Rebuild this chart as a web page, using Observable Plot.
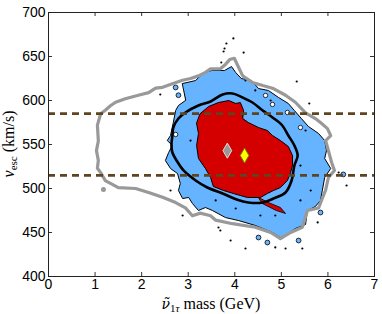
<!DOCTYPE html>
<html><head><meta charset="utf-8">
<script src="https://cdn.jsdelivr.net/npm/d3@7"></script>
<script src="https://cdn.jsdelivr.net/npm/@observablehq/plot@0.6"></script>
<style>body{margin:0;background:#fff}#chart{width:382px;height:314px}</style>
</head><body><div id="chart"></div>
<script>
const xTicks = [0,1,2,3,4,5,6,7];
const yTicks = [400,450,500,550,600,650,700];
const bandLines = [585, 515];

// outer gray contour
const grayX = [1.12,1.05,1.07,1.03,1.07,1.05,1.12,1.22,1.50,1.87,2.15,2.45,2.73,2.94,3.09,3.26,3.48,3.59,3.95,4.44,4.77,4.98,5.20,5.45,5.56,5.80,5.88,5.95,6.01,6.14,6.08,6.01,5.95,6.06,5.99,5.84,5.73,5.52,5.30,5.09,4.81,4.60,4.38,4.17,4.06,3.99,3.89,3.80,3.69,3.48,3.37,3.22,3.05,2.88,2.66,2.45,2.30,2.15,1.93,1.65,1.44,1.33,1.22];
const grayY = [585,572,554,543,532,523,518,509,501,500,495.5,490,484,478,469,472,469,464,460,456,450,443,450,456,475,478,489,498,512.5,520.5,529.5,543,554.5,560,568,575,579.5,586,598,606,614,617,620.5,628,640,648,646.5,641,636,636,632,628,625,623,619,615,614,609,606,602,598,594,589];

// light blue region
const blueX = [2.88,3.16,3.31,3.50,3.78,3.93,4.02,4.14,4.36,4.51,4.72,4.94,5.15,5.28,5.43,5.58,5.80,5.93,5.97,5.93,6.06,5.93,5.88,5.84,5.73,5.56,5.52,5.30,5.09,4.98,4.81,4.44,4.08,3.80,3.52,3.37,3.22,3.09,3.01,2.88,2.79,2.83,2.77,2.62,2.51,2.58,2.66,2.55,2.62,2.68,2.73,2.79,2.94];
const blueY = [619.3,622.7,630.7,634.1,634.1,638.6,631.8,625,622.7,613.6,611.4,603.4,596.6,588.6,579.5,570.5,562.5,554.5,543.2,534.1,522.7,512.5,497.7,486.4,479.5,475,459.1,454.5,446.6,444.3,450,458,463.6,467,475,478.4,475,483,489.8,488.6,497.7,505.7,517,522.7,531.8,540.9,548.9,554.5,560.2,575,588.6,594.3,600];

// thick black contour
const blackX = [2.64,2.66,2.68,2.79,2.94,3.22,3.48,3.74,3.95,4.17,4.38,4.60,4.81,5.02,5.15,5.28,5.35,5.28,5.22,5.09,4.83,4.60,4.29,4.04,3.74,3.41,3.16,2.90,2.75,2.66];
const blackY = [548.9,560.2,569.3,579.5,586.4,594.3,598.9,606.8,608,603.4,597.7,588.6,580.7,571.6,560.2,548.9,537.5,526.1,509.1,495.5,488.6,484.1,484.1,487.5,494.3,501.1,509.1,520.5,531.8,540.9];

// red region
const redX = [3.26,3.44,3.65,3.87,4.02,4.12,4.19,4.17,4.29,4.51,4.70,4.81,4.98,5.15,5.24,5.24,5.20,5.13,4.98,4.83,4.70,4.55,4.27,3.97,3.76,3.54,3.48,3.37,3.22,3.18,3.22,3.18];
const redY = [585.2,593.2,597.7,600,596.6,597.7,588.6,579.5,575,569.3,565.9,560.2,554.5,547.7,537.5,526.1,518.2,509.1,501.1,497.7,494.3,489.8,489.8,494.3,497.7,502.3,512.5,522.7,534.1,548.9,562.5,573.9];
const tailX = [4.51,4.72,4.98,5.09,4.89,4.59];
const tailY = [489.8,484.1,478.4,471.6,475,483];

// scattered specks
const speckX = [3.97,3.82,3.78,3.76,4.19,3.71,5.33,5.60,2.40,3.65,3.69,3.91,4.23,4.87,5.09,5.45,5.78,6.40,2.62,2.88,6.23,3.05,3.37,3.52,4.66,4.44,3.91,5.41,5.52,4.77,4.44,4.23,5.63,5.41,4.87,4.55,4.02,3.59];
const speckY = [670.5,664.8,659.1,655.7,654.5,643.2,621.6,596.6,606.8,455.7,452.3,440.9,431.8,433,431.8,431.8,461.4,503.4,497.7,469.3,518.2,554.5,543.2,571.6,531.8,514.8,509.1,526.1,565.9,600,611.4,622.7,497.7,486.4,469.3,469.3,477.3,486.4];
const islandX = [4.51,4.70,5.37,5.84,6.33,2.73,2.79];
const islandY = [444.3,438.6,440.9,472.7,516,614.8,606];
const holeX = [4.66,4.81,5.13,5.41,2.73];
const holeY = [605.7,595.5,586.4,569.3,561.4];
const grayBlobX = [1.18];
const grayBlobY = [499];

// best-fit markers
const markX = [3.84, 4.21];
const markY = [543, 537.5];

const idx = a => a.map((_, i) => i);

const plot = Plot.plot({
  width: 382, height: 314,
  marginLeft: 48, marginRight: 8, marginTop: 12, marginBottom: 38,
  style: {fontFamily: "'Liberation Sans', Arial, sans-serif", fontSize: "14px", background: "#fff", color: "#000"},
  x: {domain: [0, 7]},
  y: {domain: [400, 700]},
  marks: [
    Plot.line(idx(blueX), {x: i => blueX[i], y: i => blueY[i], curve: "linear-closed", fill: "#66b3ff", stroke: "#000", strokeWidth: 1}),
    Plot.dot(idx(holeX), {x: i => holeX[i], y: i => holeY[i], r: 2.2, fill: "#fff", stroke: "#000", strokeWidth: 0.8}),
    Plot.dot(idx(islandX), {x: i => islandX[i], y: i => islandY[i], r: 2.4, fill: "#66b3ff", stroke: "#000", strokeWidth: 0.8}),
    Plot.dot(idx(speckX), {x: i => speckX[i], y: i => speckY[i], r: 1.1, fill: "#000", stroke: "none"}),
    Plot.line(idx(redX), {x: i => redX[i], y: i => redY[i], curve: "linear-closed", fill: "#d40000", stroke: "#000", strokeWidth: 1}),
    Plot.line(idx(tailX), {x: i => tailX[i], y: i => tailY[i], curve: "linear-closed", fill: "#d40000", stroke: "#000", strokeWidth: 0.8}),
    Plot.line(idx(blackX), {x: i => blackX[i], y: i => blackY[i], curve: "catmull-rom-closed", stroke: "#000", strokeWidth: 2.6}),
    Plot.line(idx(grayX), {x: i => grayX[i], y: i => grayY[i], curve: "linear-closed", stroke: "#999", strokeWidth: 3.2, strokeLinejoin: "round"}),
    Plot.dot(idx(grayBlobX), {x: i => grayBlobX[i], y: i => grayBlobY[i], r: 2.5, fill: "#999", stroke: "none"}),
    Plot.ruleY(bandLines, {y: d => d, stroke: "#5e4420", strokeWidth: 2.8, strokeDasharray: "7,5"}),
    Plot.dot([0], {x: () => markX[0], y: () => markY[0], symbol: "diamond", r: 4.6, fill: "#999", stroke: "#ddd", strokeWidth: 1}),
    Plot.dot([1], {x: () => markX[1], y: () => markY[1], symbol: "diamond", r: 4.6, fill: "#ffff00", stroke: "#777700", strokeWidth: 1}),
    // inward ticks on all four sides
    Plot.ruleX(xTicks, {x: d => d, insetTop: 260, stroke: "#333"}),
    Plot.ruleX(xTicks, {x: d => d, insetBottom: 260, stroke: "#333"}),
    Plot.ruleY(yTicks, {y: d => d, insetRight: 322, stroke: "#333"}),
    Plot.ruleY(yTicks, {y: d => d, insetLeft: 322, stroke: "#333"}),
    Plot.axisX({ticks: xTicks, tickSize: 0, tickPadding: 3, tickFormat: d => String(d), label: null}),
    Plot.axisY({ticks: yTicks, tickSize: 0, tickPadding: 3, tickFormat: d => String(d), label: null}),
    Plot.frame({stroke: "#222", strokeWidth: 1})
  ]
});
document.getElementById("chart").appendChild(plot);

const svg = d3.select(plot);
const serif = "'Liberation Serif', 'DejaVu Serif', serif";
const xl = svg.append("text").attr("x", 211).attr("y", 309).attr("text-anchor", "middle")
  .attr("font-family", serif).attr("font-size", 16).attr("fill", "#000");
xl.append("tspan").attr("font-style", "italic").attr("font-family", "'DejaVu Serif', serif").attr("font-size", 14).text("\u03BD\u0303");
xl.append("tspan").attr("font-size", 11).attr("dy", 3).text("1");
xl.append("tspan").attr("font-size", 11).attr("font-style", "italic").text("\u03C4");
xl.append("tspan").attr("dy", -3).text(" mass (GeV)");

const yl = svg.append("text").attr("transform", "translate(14,144) rotate(-90)").attr("text-anchor", "middle")
  .attr("font-family", serif).attr("font-size", 16).attr("fill", "#000");
yl.append("tspan").attr("font-style", "italic").text("v");
yl.append("tspan").attr("font-size", 11).attr("dy", 3).text("esc");
yl.append("tspan").attr("dy", -3).text(" (km/s)");
</script>
</body></html>
